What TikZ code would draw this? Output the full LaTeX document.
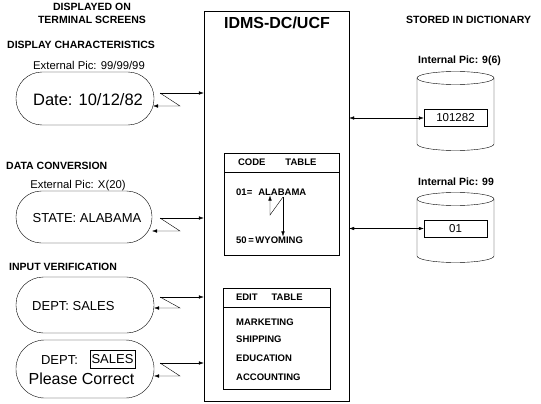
\documentclass[tikz,border=0pt]{standalone}
\usepackage{fontspec}
\setmainfont{Liberation Sans}
\usetikzlibrary{arrows.meta}

\begin{document}
\begin{tikzpicture}[
  x=1pt, y=-1pt,
  hdr/.style={font=\bfseries\fontsize{10.5}{13}\selectfont, inner sep=0pt},
  pic/.style={font=\fontsize{11.3}{13}\selectfont, inner sep=0pt},
  scr/.style={draw, rounded corners=26pt, minimum width=138pt,
              minimum height=53pt},
  big/.style={font=\fontsize{16.5}{18}\selectfont, inner sep=0pt},
  mid/.style={font=\fontsize{13}{15}\selectfont, inner sep=0pt},
  tab/.style={draw, minimum height=19pt, align=left,
              font=\bfseries\fontsize{9.5}{11}\selectfont},
  item/.style={font=\bfseries\fontsize{9.5}{11}\selectfont,
               inner sep=0pt, anchor=west},
  val/.style={draw, minimum width=63pt, minimum height=17pt,
              font=\fontsize{11.5}{13}\selectfont},
  arr/.style={-{Latex[length=5pt,width=3.5pt]}},
  darr/.style={{Latex[length=5pt,width=3.5pt]}-{Latex[length=5pt,width=3.5pt]}},
]
\useasboundingbox (0,0) rectangle (541,404);

% Headings
\node[hdr, align=center] (term) at (92,13.5) {DISPLAYED ON\\TERMINAL SCREENS};
\node[hdr, anchor=west] (dict) at (406,20) {STORED IN DICTIONARY};

% IDMS-DC/UCF
\node[draw, minimum width=145pt, minimum height=390pt] (ucf) at (276.5,206) {};
\node[font=\bfseries\fontsize{16}{18}\selectfont] (title) at (277,23)
  {IDMS-DC/UCF};

% Code table
\node[tab, inner xsep=14pt, text width=87pt] (codehd) at (281.5,162.5)
  {CODE\hspace{20pt}TABLE};
\node[draw, minimum width=115pt, minimum height=83pt, anchor=north]
  (codebody) at (codehd.south) {};
\node[item] (al) at (236,192) {01=\hspace{6pt}ALABAMA};
\node[item] (wy) at (236,240) {50\,=\,WYOMING};
\coordinate (zt) at (283,197);
\coordinate (zb) at (270,215);
\draw[arr] (zt) -- (zt |- wy.north);
\draw[arr] (zt) -- (zb) -- (zb |- al.south);

% Edit table
\node[tab, inner xsep=13pt, text width=81pt] (edithd) at (276.5,297.5)
  {EDIT\hspace{14pt}TABLE};
\node[draw, minimum width=107pt, minimum height=82pt, anchor=north]
  (editbody) at (edithd.south) {};
\node[item] (e1) at (236,322) {MARKETING};
\node[item] (e2) at (236,339) {SHIPPING};
\node[item] (e3) at (236,358) {EDUCATION};
\node[item] (e4) at (236,377) {ACCOUNTING};

% Screen 1: display characteristics
\node[hdr, anchor=west] (h1) at (7,45) {DISPLAY CHARACTERISTICS};
\node[pic] (p1) at (89,65) {External Pic: 99/99/99};
\node[scr] (scr1) at (85,98.5) {};
\node[big] (t1) at (88,100) {Date: 10/12/82};

% Screen 2: data conversion
\node[hdr, anchor=west] (h2) at (6,166) {DATA CONVERSION};
\node[pic] (p2) at (78,186) {External Pic: X(20)};
\node[scr, minimum width=136pt, minimum height=52pt,
      rounded corners=25.5pt] (scr2) at (84,217) {};
\node[mid] (t2) at (87,218) {STATE: ALABAMA};

% Screen 3: input verification
\node[hdr, anchor=west] (h3) at (9,267) {INPUT VERIFICATION};
\node[scr, minimum height=56pt, rounded corners=27.5pt] (scr3) at (85,305) {};
\node[mid, anchor=west] (t3) at (32,306) {DEPT: SALES};

% Screen 4: error
\node[scr, minimum height=58pt, rounded corners=28.5pt] (scr4) at (85,369) {};
\node[font=\fontsize{13}{15}\selectfont, inner sep=0pt] (t4) at (59.5,360)
  {DEPT:};
\node[draw, minimum width=45pt, minimum height=18pt, inner sep=1pt,
      font=\fontsize{13}{15}\selectfont] (sales) at (112.5,359) {SALES};
\node[font=\fontsize{16}{18}\selectfont, inner sep=0pt] (t5) at (81.5,379)
  {Please Correct};

% Screen <-> UCF
\coordinate (z1) at (160,93);  \coordinate (y1) at (153,106);
\coordinate (z2) at (160,218); \coordinate (y2) at (152,231);
\coordinate (z3) at (160,297); \coordinate (y3) at (154,308);
\coordinate (z4) at (160,363); \coordinate (y4) at (154,376);
\draw[arr] (z1) -- (z1 -| ucf.west);
\draw[arr] (z1) -- ++(20,13) -- (y1);
\draw[arr] (z2) -- (z2 -| ucf.west);
\draw[arr] (z2) -- ++(20,13) -- (y2);
\draw[arr] (z3) -- (z3 -| ucf.west);
\draw[arr] (z3) -- ++(20,11) -- (y3);
\draw[arr] (z4) -- (z4 -| ucf.west);
\draw[arr] (z4) -- ++(20,13) -- (y4);

% Dictionary 1
\node[hdr, anchor=west] (i1) at (418,61) {Internal Pic: 9(6)};
\draw (417,78) -- (417,144)
  arc[start angle=180, end angle=360, x radius=38.5pt, y radius=6.5pt]
  -- (494,78);
\draw (455.5,78) ellipse [x radius=38.5pt, y radius=6.5pt];
\node[val] (v1) at (455.5,118) {101282};

% Dictionary 2
\node[hdr, anchor=west] (i2) at (418,182) {Internal Pic: 99};
\draw (417,199) -- (417,256)
  arc[start angle=180, end angle=360, x radius=38.5pt, y radius=6.5pt]
  -- (494,199);
\draw (455.5,199) ellipse [x radius=38.5pt, y radius=6.5pt];
\node[val] (v2) at (455.5,228.5) {01};

% UCF <-> dictionary
\draw[darr] (v1.west -| ucf.east) -- (v1.west);
\draw[darr] (v2.west -| ucf.east) -- (v2.west);
\end{tikzpicture}
\end{document}
